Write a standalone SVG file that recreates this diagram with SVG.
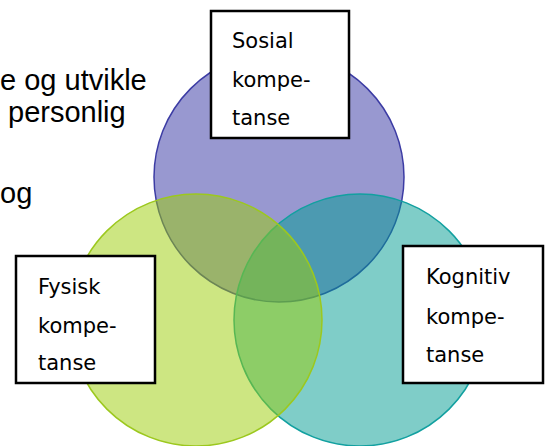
<svg xmlns="http://www.w3.org/2000/svg" width="547" height="446" viewBox="0 0 547 446">
<style>
.bg{font-family:"Liberation Sans",Arial,sans-serif;font-size:29px;fill:#000}
.box{fill:#fff;stroke:#000;stroke-width:2.5}
.lbl{font-family:"Comic Sans MS","DejaVu Sans",sans-serif;font-size:21px;fill:#000}
</style>
<rect width="547" height="446" fill="#fff"/>
<g id="background-text">
<text class="bg" x="0" y="90">e og utvikle</text>
<text class="bg" x="8" y="122">personlig</text>
<text class="bg" x="0" y="203">og</text>
</g>
<g id="circles">
<circle id="circle-sosial" cx="279" cy="177" r="125" fill="#3131a1" fill-opacity="0.5" stroke="#3c3ca4" stroke-width="1.5"/>
<circle id="circle-kognitiv" cx="360" cy="320" r="126" fill="#009b91" fill-opacity="0.5" stroke="#12a0a0" stroke-width="1.5"/>
<circle id="circle-fysisk" cx="196" cy="320" r="126" fill="#9bcd05" fill-opacity="0.5" stroke="#9cc81e" stroke-width="1.5"/>
</g>
<g id="connectors"/>
<g id="node-sosial">
<rect class="box" x="211" y="11" width="138" height="127"/>
<text class="lbl" x="232" y="48">Sosial</text>
<text class="lbl" x="232" y="87">kompe-</text>
<text class="lbl" x="232" y="125">tanse</text>
</g>
<g id="node-fysisk">
<rect class="box" x="16" y="256" width="139" height="127"/>
<text class="lbl" x="38" y="294">Fysisk</text>
<text class="lbl" x="38" y="333">kompe-</text>
<text class="lbl" x="38" y="370">tanse</text>
</g>
<g id="node-kognitiv">
<rect class="box" x="403" y="246" width="140" height="137"/>
<text class="lbl" x="426" y="284">Kognitiv</text>
<text class="lbl" x="426" y="324">kompe-</text>
<text class="lbl" x="426" y="362">tanse</text>
</g>
</svg>
